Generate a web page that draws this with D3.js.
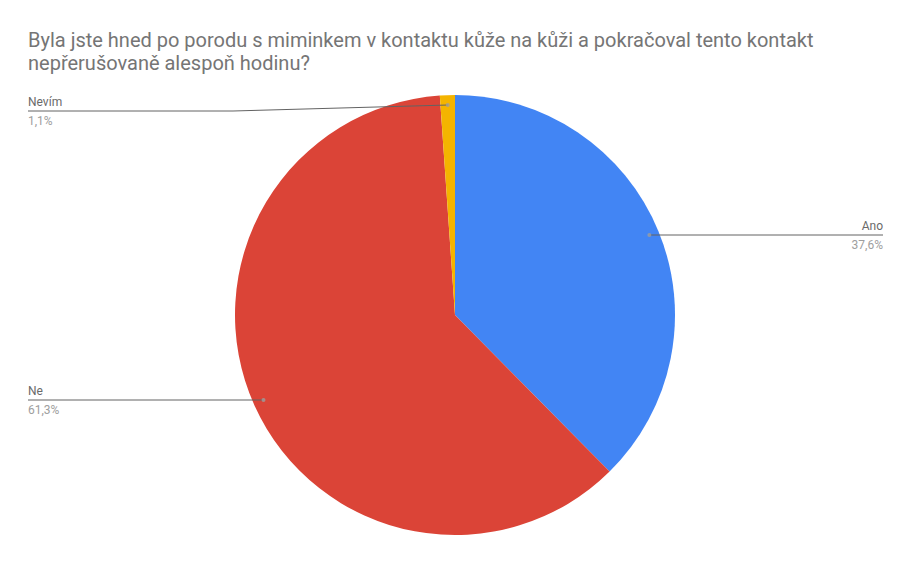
<!DOCTYPE html>
<html>

	<head>
		<meta charset="utf-8">
		<title>pie-chart</title>
		<script src="https://cdn.jsdelivr.net/npm/d3@7/dist/d3.min.js"></script>
		<style>
			body {
				margin: 0;
				background: #fff;
			}

			svg {
				display: block;
				font-family: Roboto, "Noto Sans", sans-serif;
			}

			.title {
				font-size: 20px;
				fill: #757575;
			}

			.lbl {
				font-size: 12px;
				fill: #6a6a6a;
			}

			.pct {
				font-size: 12px;
				fill: #9e9e9e;
			}

			.leader {
				fill: none;
				stroke: #636363;
				stroke-width: 1px;
			}
		</style>
	</head>

	<body>
		<svg width="911" height="563"></svg>
		<script>
			// data
			var categories = ["Ano", "Ne", "Nevím"];
			var values = [37.6, 61.3, 1.1];
			var pctLabels = ["37,6%", "61,3%", "1,1%"];
			var colors = ["#4285f4", "#db4437", "#f4b400"];

			var svg = d3.select("svg"),
				cx = 455,
				cy = 315,
				radius = 220;

			var title = svg.append("text").attr("class", "title");
			title.append("tspan").attr("x", 28).attr("y", 47)
				.text("Byla jste hned po porodu s miminkem v kontaktu kůže na kůži a pokračoval tento kontakt");
			title.append("tspan").attr("x", 28).attr("y", 70)
				.text("nepřerušovaně alespoň hodinu?");

			var data = categories.map(function(c, i) {
				return { name: c, value: values[i], pct: pctLabels[i], color: colors[i] };
			});

			var pie = d3.pie()
				.sort(null)
				.value(function(d) { return d.value; });

			var arc = d3.arc()
				.innerRadius(0)
				.outerRadius(radius);

			// point where the leader line touches the slice
			var dotArc = d3.arc()
				.innerRadius(radius * 0.955)
				.outerRadius(radius * 0.955);

			var g = svg.append("g").attr("transform", "translate(" + cx + "," + cy + ")");

			var arcs = pie(data);

			g.selectAll("path.slice")
				.data(arcs)
				.enter()
				.append("path")
				.attr("class", "slice")
				.attr("d", arc)
				.attr("fill", function(d) { return d.data.color; });

			// label layout: side and row where the text sits
			var labelPos = {
				"Ano": { x: 883, y: 235, anchor: "end" },
				"Ne": { x: 28, y: 400, anchor: "start" },
				"Nevím": { x: 28, y: 111, anchor: "start", bend: 233 }
			};

			arcs.forEach(function(d) {
				var p = dotArc.centroid(d),
					px = p[0] + cx,
					py = p[1] + cy,
					lp = labelPos[d.data.name],
					pts;

				if (lp.bend) {
					pts = [[lp.x, lp.y], [lp.bend, lp.y], [px, py]];
				} else {
					pts = [[lp.x, lp.y], [px, lp.y]];
				}

				svg.append("path")
					.attr("class", "leader")
					.attr("d", d3.line()(pts));

				svg.append("circle")
					.attr("cx", px)
					.attr("cy", lp.bend ? py : lp.y)
					.attr("r", 2)
					.attr("fill", "#9e9e9e")
					.attr("opacity", 0.8);

				svg.append("text")
					.attr("class", "lbl")
					.attr("x", lp.x)
					.attr("y", lp.y - 5)
					.attr("text-anchor", lp.anchor)
					.text(d.data.name);

				svg.append("text")
					.attr("class", "pct")
					.attr("x", lp.x)
					.attr("y", lp.y + 13.5)
					.attr("text-anchor", lp.anchor)
					.text(d.data.pct);
			});
		</script>
	</body>

</html>
